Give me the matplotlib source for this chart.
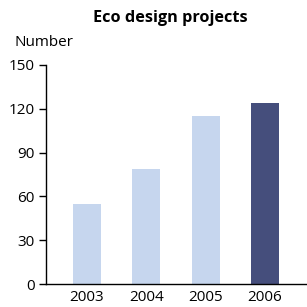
import matplotlib
matplotlib.use("Agg")
import matplotlib.pyplot as plt

years = ["2003", "2004", "2005", "2006"]
projects = [55, 79, 115, 124]
colors = ["#c6d6ee", "#c6d6ee", "#c6d6ee", "#454e7c"]
yticks = [0, 30, 60, 90, 120, 150]

plt.rcParams['font.family'] = ['Open Sans', 'DejaVu Sans']

fig = plt.figure(figsize=(3.07, 3.07), dpi=100)
ax = fig.add_axes([46/307, 23/307, 261/307, 219/307])
ax.bar(range(len(years)), projects, width=0.47, color=colors)
ax.set_xlim(-0.69, 3.71)
ax.set_ylim(0, 150)
ax.set_yticks(yticks)
ax.set_xticks(range(len(years)))
ax.set_xticklabels(years, fontsize=11)
ax.tick_params(axis='y', labelsize=11, length=5, width=1, pad=3)
ax.tick_params(axis='x', length=0, pad=4)
for s in ['top', 'right']:
    ax.spines[s].set_visible(False)
for s in ['left', 'bottom']:
    ax.spines[s].set_linewidth(1)

fig.text(170/307, 1 - 18/307, "Eco design projects", ha='center', va='center',
         fontsize=11.7, fontweight='bold')
fig.text(14/307, 1 - 43/307, "Number", ha='left', va='center', fontsize=11)

fig.savefig("out.png", dpi=100)
